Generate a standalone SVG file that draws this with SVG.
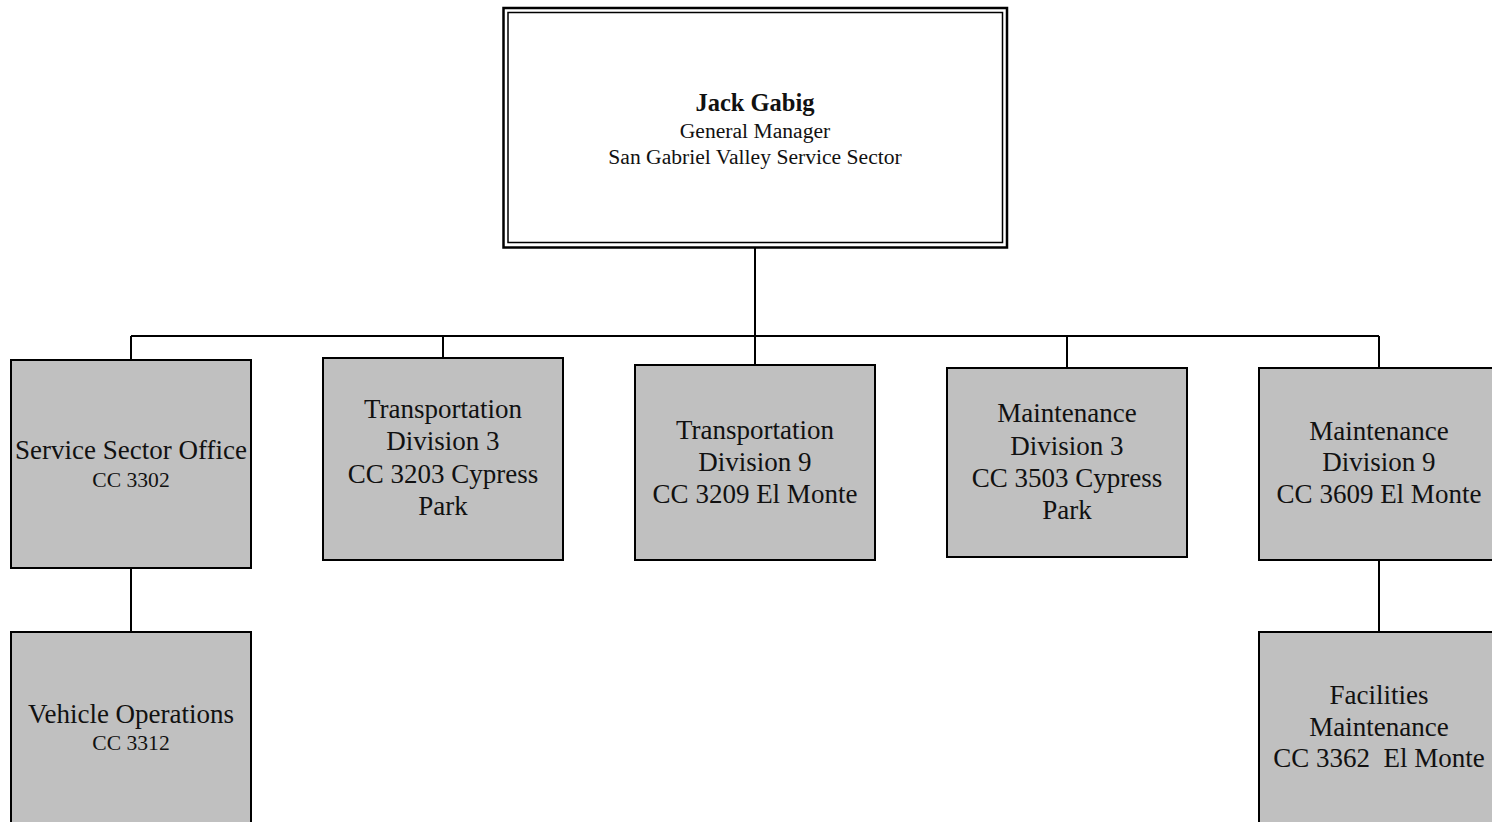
<svg xmlns="http://www.w3.org/2000/svg" width="1492" height="822" viewBox="0 0 1492 822">
<style>
.box{fill:#c0c0c0;stroke:#000;stroke-width:2}
.conn{fill:none;stroke:#000;stroke-width:2}
text{font-family:"Liberation Serif","Times New Roman",serif;fill:#111;text-anchor:middle}
.m{font-size:27px}
.s{font-size:21.6px}
.b{font-size:24.5px;font-weight:bold}
</style>
<rect width="1492" height="822" fill="#fff"/>
<g id="connectors">
<path class="conn" d="M755,248V336M131,336H1379M131,336V360M443,336V358M755,336V365M1067,336V368M1379,336V368M131,568V632M1379,560V632"/>
</g>
<g id="gm">
<rect x="503.5" y="8" width="503.5" height="239.5" fill="#fff" stroke="#000" stroke-width="2.5"/>
<rect x="508" y="12.5" width="494.5" height="230" fill="none" stroke="#000" stroke-width="1.5"/>
<text class="b" x="755" y="111">Jack Gabig</text>
<text class="s" x="755" y="138">General Manager</text>
<text class="s" x="755" y="163.5">San Gabriel Valley Service Sector</text>
</g>
<g id="sso">
<rect class="box" x="11" y="360" width="240" height="208"/>
<text class="m" x="131" y="459">Service Sector Office</text>
<text class="s" x="131" y="487">CC 3302</text>
</g>
<g id="td3">
<rect class="box" x="323" y="358" width="240" height="202"/>
<text class="m" x="443" y="418">Transportation</text>
<text class="m" x="443" y="450">Division 3</text>
<text class="m" x="443" y="483">CC 3203 Cypress</text>
<text class="m" x="443" y="515">Park</text>
</g>
<g id="td9">
<rect class="box" x="635" y="365" width="240" height="195"/>
<text class="m" x="755" y="439">Transportation</text>
<text class="m" x="755" y="471">Division 9</text>
<text class="m" x="755" y="503">CC 3209 El Monte</text>
</g>
<g id="md3">
<rect class="box" x="947" y="368" width="240" height="189"/>
<text class="m" x="1067" y="422">Maintenance</text>
<text class="m" x="1067" y="455">Division 3</text>
<text class="m" x="1067" y="487">CC 3503 Cypress</text>
<text class="m" x="1067" y="519">Park</text>
</g>
<g id="md9">
<rect class="box" x="1259" y="368" width="240" height="192"/>
<text class="m" x="1379" y="440">Maintenance</text>
<text class="m" x="1379" y="471">Division 9</text>
<text class="m" x="1379" y="503">CC 3609 El Monte</text>
</g>
<g id="vo">
<rect class="box" x="11" y="632" width="240" height="200"/>
<text class="m" x="131" y="723">Vehicle Operations</text>
<text class="s" x="131" y="750">CC 3312</text>
</g>
<g id="fm">
<rect class="box" x="1259" y="632" width="240" height="200"/>
<text class="m" x="1379" y="704">Facilities</text>
<text class="m" x="1379" y="736">Maintenance</text>
<text class="m" x="1379" y="767" xml:space="preserve">CC 3362  El Monte</text>
</g>
</svg>
